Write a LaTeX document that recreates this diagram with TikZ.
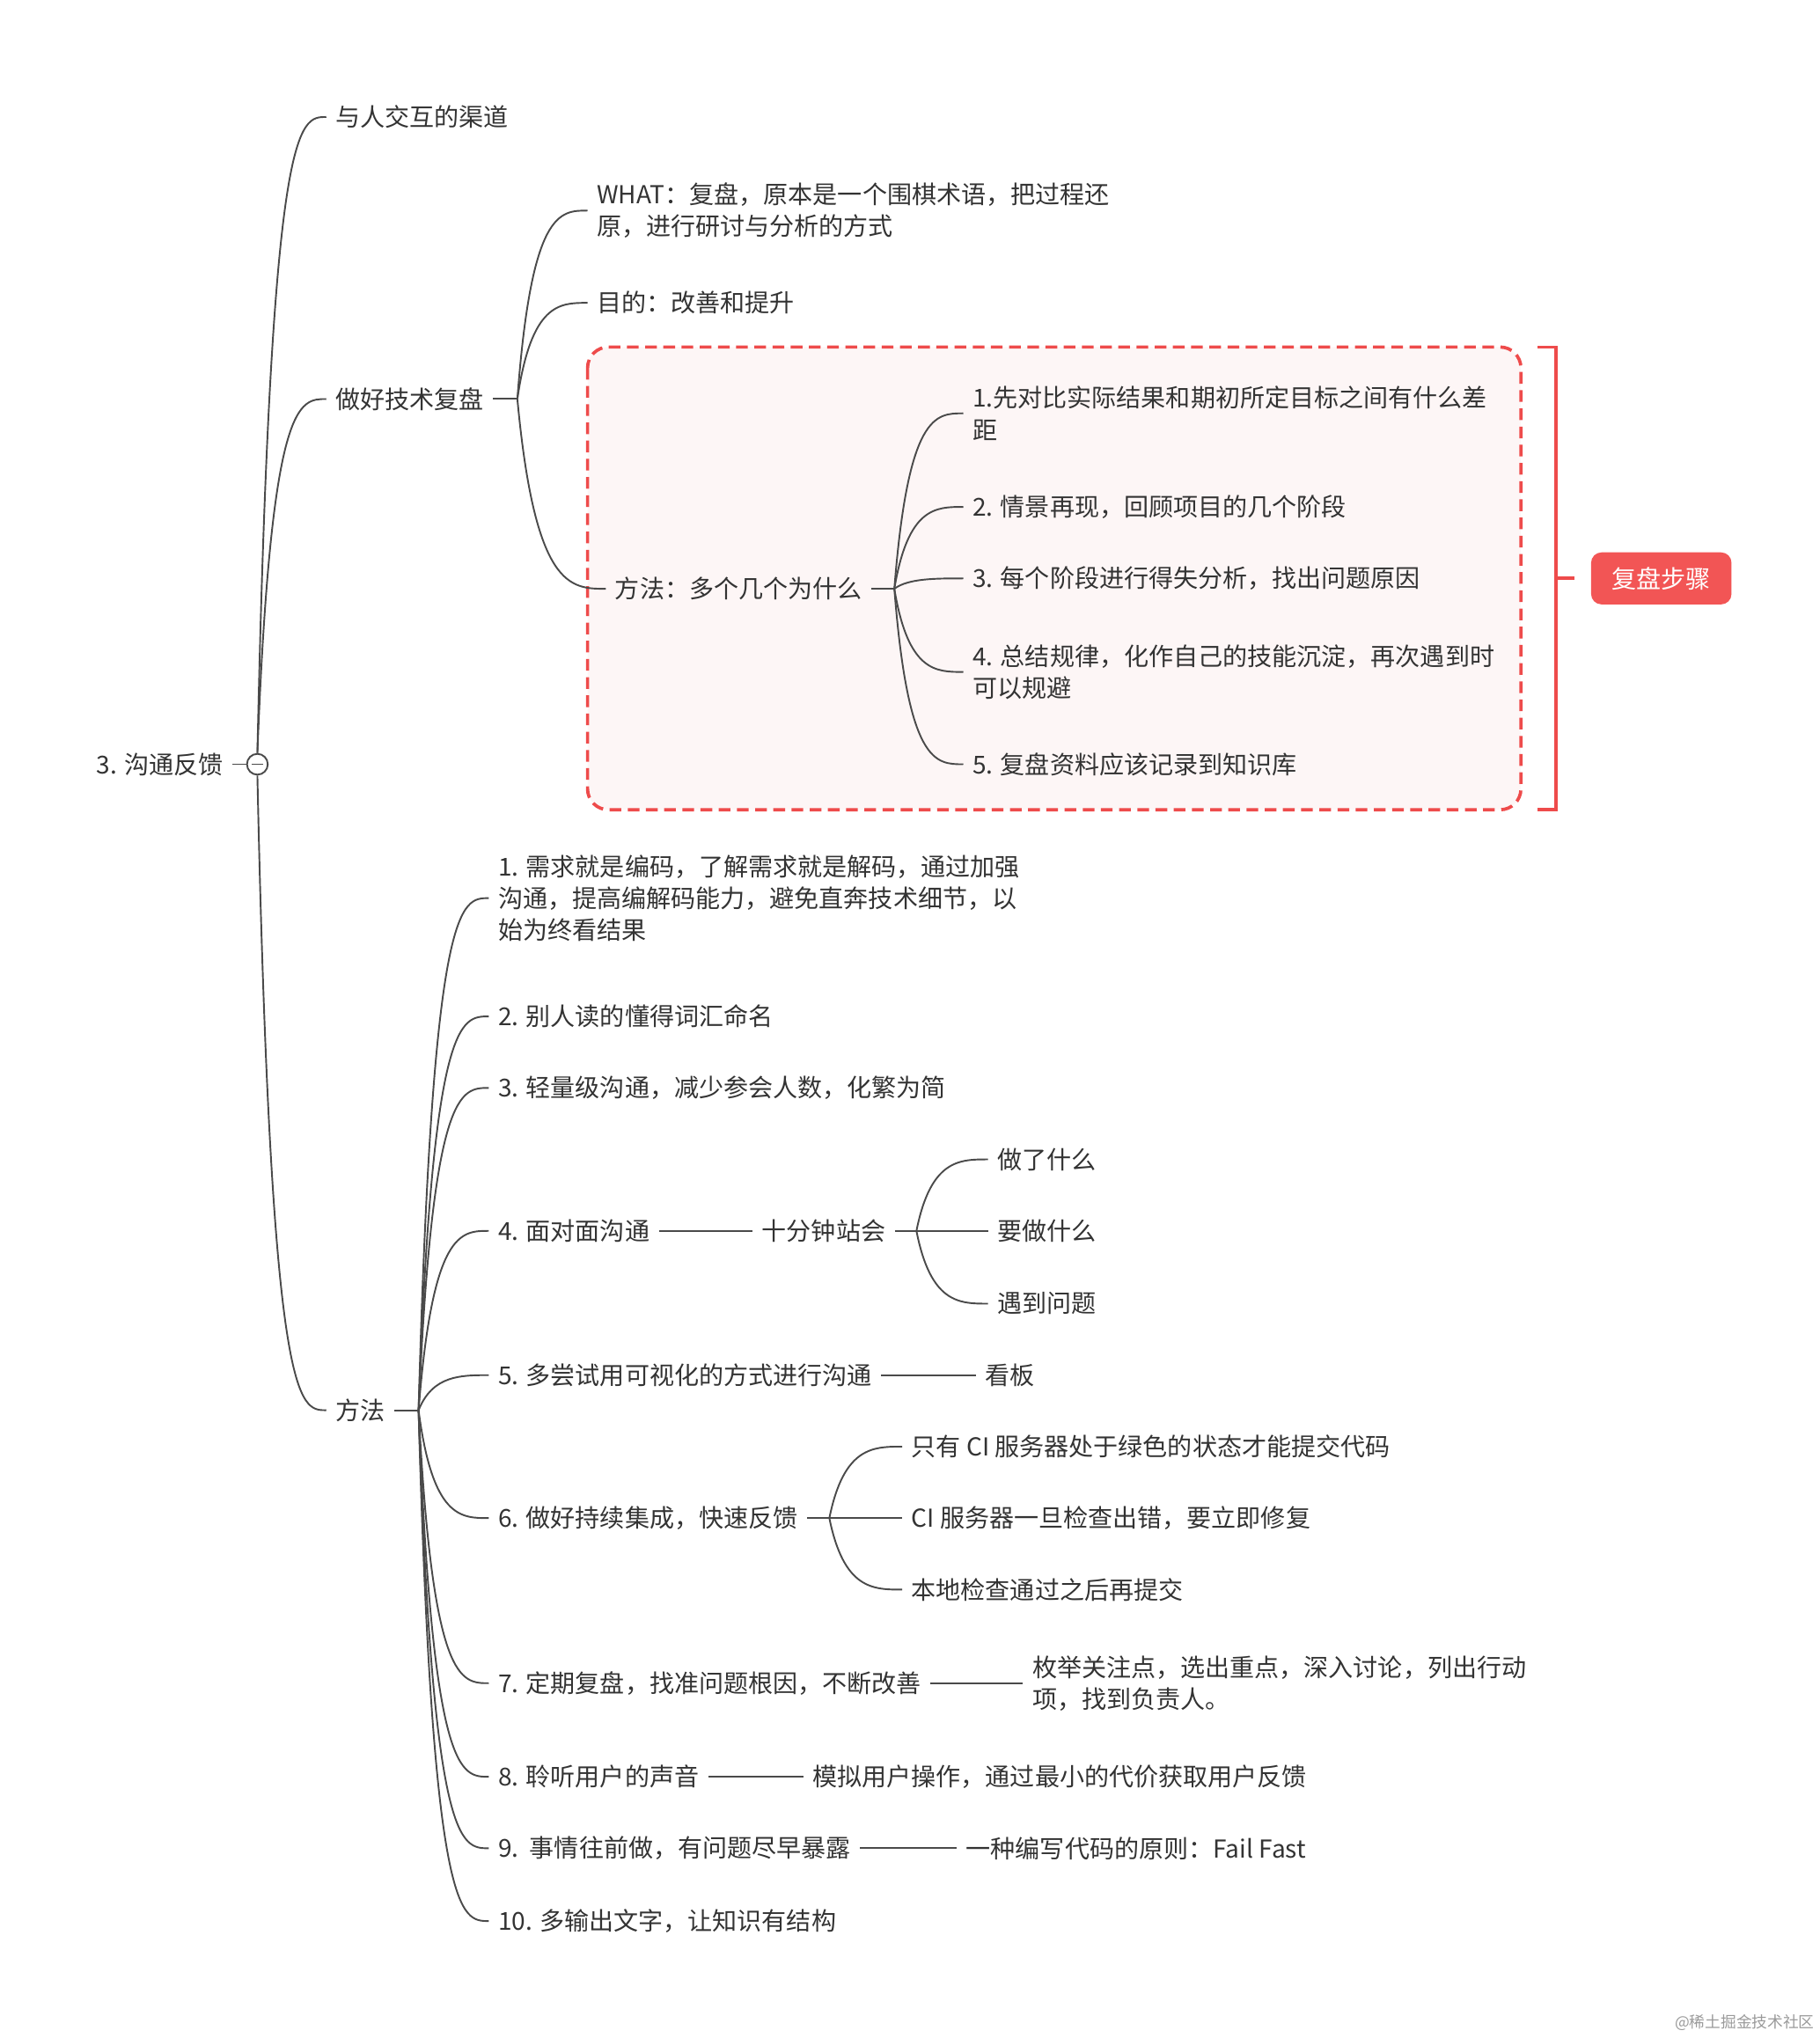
\documentclass[tikz,border=0pt]{standalone}
\usepackage{fontspec}
\newfontfamily\cjk{Noto Sans CJK SC}
\usetikzlibrary{calc}
\definecolor{txt}{HTML}{333333}
\definecolor{ln}{HTML}{4A4A4A}
\definecolor{redc}{HTML}{EE4B4B}
\definecolor{boxfill}{HTML}{FDF6F6}
\definecolor{tagred}{HTML}{F25555}
\definecolor{wm}{HTML}{9A9A9A}
\begin{document}
\begin{tikzpicture}[x=1pt,y=-1pt,
  lbl/.style={font=\cjk\fontsize{19}{24.5}\selectfont, text=txt, inner xsep=7pt, inner ysep=0pt, anchor=west, align=left},
  conn/.style={draw=ln, line width=1.3pt},
  curvy/.style={to path={let \p1=(\tikztostart), \p2=(\tikztotarget) in .. controls ({\x1+0.2*(\x2-\x1)},\y2) and ({\x1+0.6*(\x2-\x1)},\y2) .. (\tikztotarget)}},
  grp/.style={draw=redc, line width=2.5pt, dash pattern=on 9pt off 5pt, fill=boxfill, rounded corners=16pt},
  brk/.style={draw=redc, line width=2.5pt},
  tagbox/.style={fill=tagred, rounded corners=8pt, text=white, font=\cjk\fontsize{19}{24}\selectfont, minimum width=108pt, minimum height=40pt, inner sep=0pt}
]
\useasboundingbox (0,0) rectangle (1400,1568);

% group box
\path[grp] (452,267) rectangle (1170,623);

% root
\node[lbl, anchor=east] (root) at (179,588) {3. 沟通反馈};
\node[circle, draw=ln, line width=1.3pt, fill=white, minimum size=16pt, inner sep=0pt,
  path picture={\draw[ln, line width=1.3pt] ($(path picture bounding box.center)+(-4.5,0)$) -- ($(path picture bounding box.center)+(4.5,0)$);}] (rc) at (198,588) {};

% level 1
\node[lbl] (a1) at (251,90) {与人交互的渠道};
\node[lbl] (a2) at (251,307) {做好技术复盘};
\node[lbl] (a3) at (251,1085) {方法};
\coordinate (br2) at (398,307);
\coordinate (br3) at (322,1085);

% 做好技术复盘 children
\node[lbl] (b1) at (452,162) {WHAT：复盘，原本是一个围棋术语，把过程还\\原，进行研讨与分析的方式};
\node[lbl] (b2) at (452,233) {目的：改善和提升};
\node[lbl] (b3) at (466,453) {方法：多个几个为什么};
\coordinate (br4) at (688,453);

\node[lbl] (c1) at (741,318) {1.先对比实际结果和期初所定目标之间有什么差\\距};
\node[lbl] (c2) at (741,390) {2. 情景再现，回顾项目的几个阶段};
\node[lbl] (c3) at (741,445) {3. 每个阶段进行得失分析，找出问题原因};
\node[lbl] (c4) at (741,517) {4. 总结规律，化作自己的技能沉淀，再次遇到时\\可以规避};
\node[lbl] (c5) at (741,588) {5. 复盘资料应该记录到知识库};

% bracket and tag
\coordinate (bk1) at (1183,267);
\coordinate (bk2) at (1197,267);
\coordinate (bk3) at (1197,623);
\coordinate (bk4) at (1183,623);
\coordinate (bkm) at (1197,445);
\coordinate (bke) at (1211,445);
\draw[brk] (bk1) -- (bk2) -- (bk3) -- (bk4);
\draw[brk] (bkm) -- (bke);
\node[tagbox] (tag) at (1278,445) {复盘步骤};

% 方法 children
\node[lbl] (d1) at (376,691) {1. 需求就是编码，了解需求就是解码，通过加强\\沟通，提高编解码能力，避免直奔技术细节，以\\始为终看结果};
\node[lbl] (d2) at (376,782) {2. 别人读的懂得词汇命名};
\node[lbl] (d3) at (376,837) {3. 轻量级沟通，减少参会人数，化繁为简};
\node[lbl] (d4) at (376,947) {4. 面对面沟通};
\node[lbl] (d5) at (376,1058) {5. 多尝试用可视化的方式进行沟通};
\node[lbl] (d6) at (376,1168) {6. 做好持续集成，快速反馈};
\node[lbl] (d7) at (376,1295) {7. 定期复盘，找准问题根因，不断改善};
\node[lbl] (d8) at (376,1367) {8. 聆听用户的声音};
\node[lbl] (d9) at (376,1422) {9.\ \ 事情往前做，有问题尽早暴露};
\node[lbl] (d10) at (376,1478) {10. 多输出文字，让知识有结构};

\node[lbl] (e0) at (579,947) {十分钟站会};
\coordinate (br5) at (705,947);
\node[lbl] (e1) at (760,892) {做了什么};
\node[lbl] (e2) at (760,947) {要做什么};
\node[lbl] (e3) at (760,1003) {遇到问题};

\node[lbl] (g5) at (751,1058) {看板};

\coordinate (br6) at (638,1168);
\node[lbl] (f1) at (694,1113) {只有 CI 服务器处于绿色的状态才能提交代码};
\node[lbl] (f2) at (694,1168) {CI 服务器一旦检查出错，要立即修复};
\node[lbl] (f3) at (694,1223) {本地检查通过之后再提交};

\node[lbl] (h7) at (787,1295) {枚举关注点，选出重点，深入讨论，列出行动\\项，找到负责人。};
\node[lbl] (h8) at (618,1367) {模拟用户操作，通过最小的代价获取用户反馈};
\node[lbl] (h9) at (736,1422) {一种编写代码的原则：Fail Fast};

% watermark
\node[font=\cjk\fontsize{12}{14}\selectfont, text=wm, anchor=east, inner sep=0pt] (wmk) at (1396,1556) {@稀土掘金技术社区};

% connectors
\draw[conn] (root.east) -- (rc.west);
\draw[conn] (rc.north) to[curvy] (a1.west);
\draw[conn] (rc.north) to[curvy] (a2.west);
\draw[conn] (rc.south) to[curvy] (a3.west);

\draw[conn] (a2.east) -- (br2);
\foreach \k in {b1,b2,b3} \draw[conn] (br2) to[curvy] (\k.west);
\draw[conn] (b3.east) -- (br4);
\foreach \k in {c1,c2,c3,c4,c5} \draw[conn] (br4) to[curvy] (\k.west);

\draw[conn] (a3.east) -- (br3);
\foreach \k in {d1,d2,d3,d4,d5,d6,d7,d8,d9,d10} \draw[conn] (br3) to[curvy] (\k.west);

\draw[conn] (d4.east) -- (e0.west);
\draw[conn] (e0.east) -- (br5);
\foreach \k in {e1,e2,e3} \draw[conn] (br5) to[curvy] (\k.west);

\draw[conn] (d5.east) -- (g5.west);
\draw[conn] (d6.east) -- (br6);
\foreach \k in {f1,f2,f3} \draw[conn] (br6) to[curvy] (\k.west);
\draw[conn] (d7.east) -- (h7.west);
\draw[conn] (d8.east) -- (h8.west);
\draw[conn] (d9.east) -- (h9.west);
\end{tikzpicture}
\end{document}
